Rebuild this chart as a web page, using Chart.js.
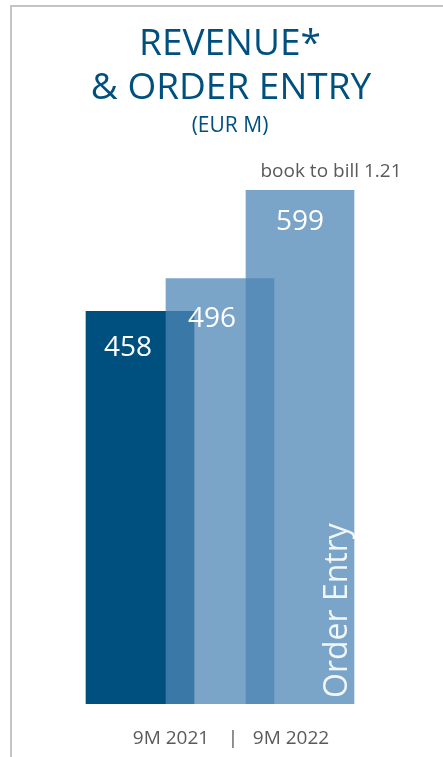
<!DOCTYPE html>
<html lang="en">
  <head>
    <meta charset="UTF-8">
    <title>Revenue & Order Entry</title>
    <script src="https://cdn.jsdelivr.net/npm/chart.js"></script>
    <style>
      body {
        margin: 0;
        padding: 0;
        background-color: #ffffff;
      }
      .frame {
        position: absolute;
        left: 10px;
        top: 5px;
        right: -10px;
        bottom: -10px;
        border-left: 2px solid #c4c4c4;
        border-top: 2px solid #c4c4c4;
      }
      .wrap {
        position: relative;
        width: 443px;
        height: 757px;
        overflow: hidden;
      }
    </style>
  </head>
  <body>
  <div class="wrap">
    <div class="frame"></div>
    <canvas id="revChart" width="443" height="757"></canvas>
  </div>

  <script>
  // bars in drawing order: revenue 2021, revenue 2022, order entry 2022
  var barNames = ['Revenue 9M 2021', 'Revenue 9M 2022', 'Order Entry 9M 2022'];
  var barSlots = [0, 1, 2];
  var barValues = [458, 496, 599];
  var periods = ['9M 2021', '9M 2022'];
  var bookToBill = 1.21;

  var darkBlue = '#00507f';
  var lightBlue = 'rgba(77, 133, 182, 0.75)';
  var barColors = [darkBlue, lightBlue, lightBlue];
  var labelShiftX = [-12, -8, 0];
  var labelShiftY = [37, 40, 32];

  var textPlugin = {
    id: 'textPlugin',
    afterDatasetsDraw: function(chart) {
      var ctx = chart.ctx;
      ctx.save();
      ctx.fillStyle = '#ffffff';
      ctx.textAlign = 'center';
      ctx.textBaseline = 'middle';
      ctx.font = '28px "Open Sans"';
      chart.data.datasets.forEach(function(ds, i) {
        var bar = chart.getDatasetMeta(i).data[0];
        ctx.fillText(String(ds.data[0].y), bar.x + labelShiftX[i], bar.y + labelShiftY[i]);
      });

      // series name written up the order entry bar
      var oe = chart.getDatasetMeta(2).data[0];
      ctx.save();
      ctx.translate(oe.x + 47, oe.base - 6);
      ctx.rotate(-Math.PI / 2);
      ctx.textAlign = 'left';
      ctx.textBaseline = 'alphabetic';
      ctx.font = '32px "Open Sans"';
      ctx.fillStyle = 'rgba(255,255,255,0.9)';
      ctx.fillText('Order Entry', 0, 0);
      ctx.restore();

      ctx.fillStyle = '#5a5a5a';
      ctx.font = '19px "Open Sans"';
      ctx.textBaseline = 'alphabetic';
      ctx.fillText('book to bill ' + bookToBill.toFixed(2), oe.x + 31, 177);

      ctx.font = '19px "Open Sans"';
      ctx.fillText(periods[0], 171, 744);
      ctx.fillText('|', 233, 744);
      ctx.fillText(periods[1], 291, 744);

      ctx.fillStyle = darkBlue;
      ctx.font = '37px "Open Sans"';
      ctx.fillText('REVENUE*', 230, 55);
      ctx.fillText('& ORDER ENTRY', 231, 99);
      ctx.font = '21px "Open Sans"';
      ctx.fillText('(EUR M)', 230, 132);
      ctx.restore();
    }
  };

  var datasets = barNames.map(function(name, i) {
    return {
      label: name,
      data: [{ x: barSlots[i], y: barValues[i] }],
      backgroundColor: barColors[i],
      borderWidth: 0,
      barThickness: 108,
      order: 3 - i
    };
  });

  var ctx = document.getElementById('revChart').getContext('2d');
  var revChart = new Chart(ctx, {
    type: 'bar',
    data: { datasets: datasets },
    plugins: [textPlugin],
    options: {
      responsive: false,
      animation: false,
      layout: {
        padding: { left: 20, right: 3, top: 150, bottom: 53 }
      },
      datasets: { bar: { grouped: false } },
      plugins: {
        legend: { display: false },
        title: { display: false },
        tooltip: { enabled: false }
      },
      scales: {
        x: { type: 'linear', min: -1.5, max: 3.75, offset: false, display: false },
        y: { min: 0, max: 646, display: false }
      }
    }
  });
  </script>
  </body>
</html>
